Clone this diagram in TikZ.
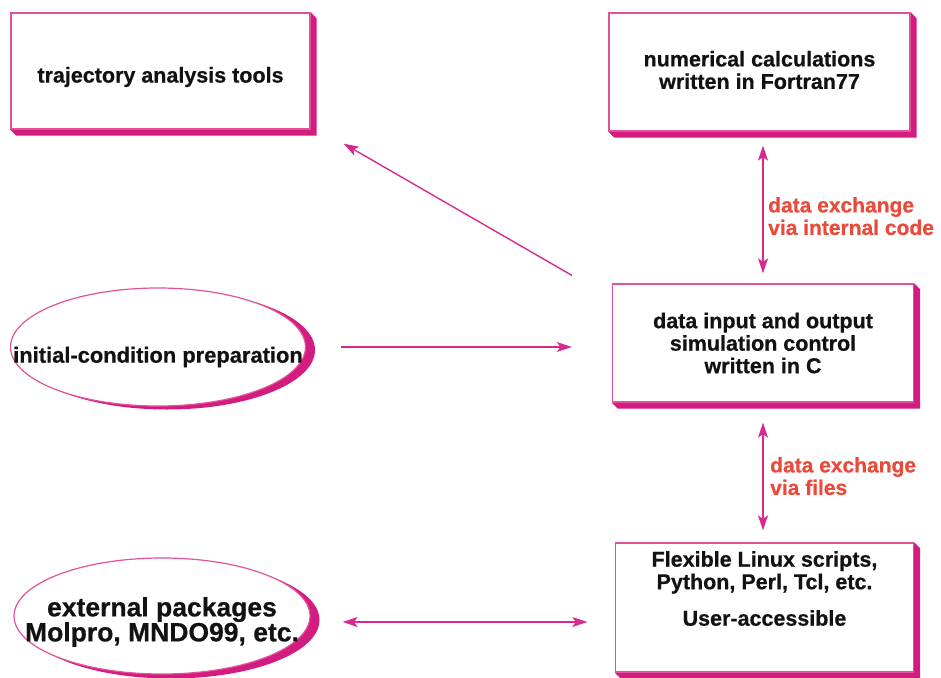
\documentclass[tikz,border=0pt]{standalone}
\usepackage{fontspec}
\setmainfont{Liberation Sans}[BoldFeatures={FakeBold=0.6}]
\usetikzlibrary{shapes.geometric,arrows.meta,calc}
\pgfdeclarelayer{background}
\pgfsetlayers{background,main}
\definecolor{boxline}{RGB}{226,82,152}
\definecolor{shadowmag}{RGB}{212,28,128}
\definecolor{arrowcol}{RGB}{214,42,142}
\definecolor{labelred}{RGB}{234,74,58}
\definecolor{txtcol}{RGB}{18,18,18}
\begin{document}
\begin{tikzpicture}[x=1pt,y=-1pt,
  boxnode/.style={rectangle, draw=boxline, line width=1.3pt, fill=white, inner sep=0pt},
  ellnode/.style={ellipse, draw=boxline, line width=1.2pt, fill=white, inner sep=0pt},
  txt/.style={text=txtcol, align=center, inner sep=0pt, font=\bfseries\fontsize{21.5}{22.5}\selectfont},
  bigtxt/.style={text=txtcol, align=center, inner sep=0pt, font=\bfseries\fontsize{26.5}{25}\selectfont},
  lbl/.style={text=labelred, align=left, inner sep=0pt, anchor=north west, font=\bfseries\fontsize{21}{22.5}\selectfont},
  conn/.style={draw=arrowcol, line width=1.4pt},
  >={Stealth[length=15pt,width=10pt,inset=3.5pt]}
]
\useasboundingbox (0,0) rectangle (941,677);

% boxes
\node[boxnode, minimum width=299pt, minimum height=116pt,
  label={[txt, yshift=-6pt]center:{trajectory analysis tools}}] (traj) at (160.5,71) {};
\node[boxnode, minimum width=301pt, minimum height=118pt,
  label={[txt, yshift=2pt]center:{numerical calculations\\written in Fortran77}}] (num) at (759.5,72) {};
\node[boxnode, minimum width=301pt, minimum height=118pt,
  label={[txt]center:{data input and output\\simulation control\\written in C}}] (mid) at (763,343) {};
\node[boxnode, minimum width=298pt, minimum height=129pt,
  label={[txt, yshift=19pt]center:{Flexible Linux scripts,\\Python, Perl, Tcl, etc.\\[14pt]User-accessible}}] (scr) at (764.5,607.5) {};

% ellipses
\node[ellnode, minimum width=295pt, minimum height=118pt,
  label={[txt, font=\bfseries\fontsize{21.9}{22.5}\selectfont, yshift=-10pt]center:{initial-condition preparation}}] (init) at (158,347) {};
\node[ellnode, minimum width=296pt, minimum height=116pt,
  label={[bigtxt, yshift=-6pt]center:{external packages\\Molpro, MNDO99, etc.}}] (ext) at (162,616) {};

% shadows
\begin{pgfonlayer}{background}
  \foreach \b in {traj,num,mid,scr}{
    \fill[shadowmag] (\b.south west) -- ([shift={(6,6)}]\b.south west)
      -- ([shift={(6,6)}]\b.south east) -- ([shift={(6,6)}]\b.north east)
      -- (\b.north east) -- cycle;
  }
  \fill[shadowmag] ([shift={(9,3)}]init.center) ellipse [x radius=148, y radius=59.5];
  \fill[shadowmag] ([shift={(9,4)}]ext.center) ellipse [x radius=148.5, y radius=58.5];
\end{pgfonlayer}

% labels
\node[lbl] (lblA) at (768,197) {data exchange\\via internal code};
\node[lbl] (lblB) at (770,457) {data exchange\\via files};

% connectors
\draw[conn,->] ([shift={(-40,-8)}]mid.north west) -- ([shift={(33,14)}]traj.south east);
\draw[conn,->] ([shift={(35,0)}]init.east) -- ([shift={(-40,4)}]mid.west);
\draw[conn,<->] ([shift={(3.5,14)}]num.south) -- ([shift={(0,-10)}]mid.north);
\draw[conn,<->] ([shift={(0,20)}]mid.south) -- ([shift={(-1.5,-12)}]scr.north);
\draw[conn,<->] ([shift={(32,6)}]ext.east) -- ([shift={(-27.5,14.5)}]scr.west);
\end{tikzpicture}
\end{document}
